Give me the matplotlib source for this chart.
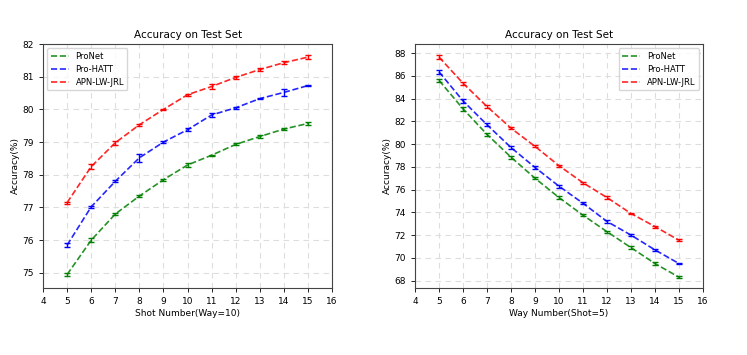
import matplotlib
matplotlib.use("Agg")
import matplotlib.pyplot as plt
import numpy as np

x = [5, 6, 7, 8, 9, 10, 11, 12, 13, 14, 15]

# left: shot number (way=10)
shot_pronet = [74.95, 76.00, 76.80, 77.35, 77.85, 78.30, 78.60, 78.93, 79.17, 79.40, 79.57]
shot_pronet_err = [0.05, 0.07, 0.03, 0.03, 0.03, 0.07, 0.02, 0.03, 0.04, 0.03, 0.04]
shot_hatt = [75.85, 77.02, 77.80, 78.52, 79.00, 79.38, 79.83, 80.05, 80.33, 80.52, 80.73]
shot_hatt_err = [0.07, 0.03, 0.03, 0.12, 0.03, 0.04, 0.06, 0.03, 0.02, 0.10, 0.02]
shot_apn = [77.15, 78.25, 78.98, 79.53, 80.00, 80.45, 80.70, 80.98, 81.22, 81.43, 81.60]
shot_apn_err = [0.03, 0.08, 0.06, 0.03, 0.02, 0.03, 0.08, 0.04, 0.05, 0.05, 0.05]

# right: way number (shot=5)
way_pronet = [85.60, 83.10, 80.85, 78.85, 77.00, 75.30, 73.75, 72.30, 70.90, 69.50, 68.30]
way_pronet_err = [0.15, 0.15, 0.12, 0.12, 0.10, 0.10, 0.10, 0.10, 0.10, 0.10, 0.10]
way_hatt = [86.35, 83.80, 81.70, 79.70, 77.95, 76.30, 74.80, 73.20, 72.00, 70.70, 69.50]
way_hatt_err = [0.15, 0.15, 0.12, 0.12, 0.15, 0.12, 0.10, 0.10, 0.10, 0.10, 0.08]
way_apn = [87.65, 85.35, 83.30, 81.40, 79.80, 78.10, 76.60, 75.30, 73.90, 72.75, 71.55]
way_apn_err = [0.15, 0.15, 0.10, 0.10, 0.08, 0.08, 0.10, 0.12, 0.08, 0.08, 0.10]

labels = ["ProNet", "Pro-HATT", "APN-LW-JRL"]
colors = ["green", "blue", "red"]

fig = plt.figure(figsize=(7.47, 3.55), dpi=100)
ax1 = fig.add_axes([0.0576, 0.189, 0.387, 0.687])
ax2 = fig.add_axes([0.5556, 0.189, 0.3855, 0.687])

def draw(ax, series, errs, xlabel, ylim, yticks, loc):
    for y, e, lab, c in zip(series, errs, labels, colors):
        ax.plot(x, y, color=c, ls="--", lw=1.2, label=lab, alpha=0.85)
        ax.errorbar(x, y, yerr=e, color=c, ls="none", capsize=2,
                    elinewidth=1.0, capthick=1.0)
    ax.set_xlim(4, 16)
    ax.set_xticks(range(4, 17))
    ax.set_ylim(*ylim)
    ax.set_yticks(yticks)
    ax.grid(True, ls=(0, (5, 4)), color="#dddddd", lw=0.8)
    ax.tick_params(labelsize=6.5, length=3, width=0.6)
    ax.set_xlabel(xlabel, fontsize=6.5, labelpad=2)
    ax.set_ylabel("Accuracy(%)", fontsize=6.5, labelpad=2)
    ax.set_title("Accuracy on Test Set", fontsize=7.5, pad=4)
    for s in ax.spines.values():
        s.set_color("#444444")
        s.set_linewidth(0.8)
    ax.legend(loc=loc, fontsize=6.0, frameon=True, handlelength=2.2)

draw(ax1, [shot_pronet, shot_hatt, shot_apn],
     [shot_pronet_err, shot_hatt_err, shot_apn_err],
     "Shot Number(Way=10)", (74.54, 82.0), range(75, 83), "upper left")
draw(ax2, [way_pronet, way_hatt, way_apn],
     [way_pronet_err, way_hatt_err, way_apn_err],
     "Way Number(Shot=5)", (67.36, 88.8), range(68, 89, 2), "upper right")

plt.savefig("out.png", dpi=100)
plt.close()
